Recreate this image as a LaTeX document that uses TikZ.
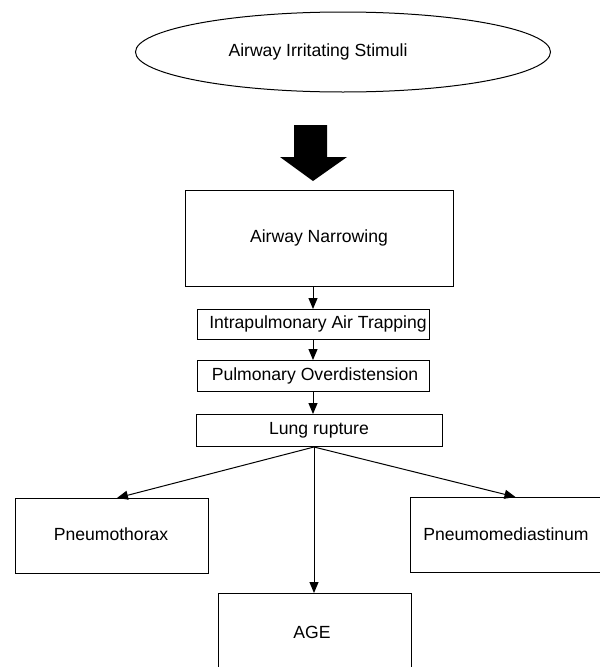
\documentclass[tikz,border=0pt]{standalone}
\usepackage{fontspec}
\setmainfont{Liberation Sans}
\usetikzlibrary{arrows.meta,shapes.geometric}
\begin{document}
\begin{tikzpicture}[x=1pt,y=-1pt,
  box/.style={draw,line width=1pt,rectangle,inner sep=0pt,anchor=north west},
  lbl/.style={inner sep=0pt,font=\fontsize{17.6}{20}\selectfont},
  conn/.style={line width=1pt,-{Triangle[length=11pt,width=9pt]}}]
\useasboundingbox[fill=white] (0,0) rectangle (600,667);
\coordinate (ax) at (313,0);
% top ellipse
\node[ellipse,draw,line width=1pt,minimum width=415pt,minimum height=80pt,inner sep=0pt] (stim) at (343,52) {};
\node[lbl] (stimtext) at (318,52) {Airway Irritating Stimuli};
% thick arrow
\fill[black] (294,125) -- (327,125) -- (327,157) -- (347,157) -- (313,181) -- (280,157) -- (294,157) -- cycle;
% boxes
\node[box,minimum width=268pt,minimum height=96pt] (narrow) at (185,190) {};
\node[lbl] (narrowtext) at (319,238) {Airway Narrowing};
\node[box,minimum width=232pt,minimum height=30pt] (trap) at (197,309) {};
\node[lbl] (traptext) at (318,324) {Intrapulmonary Air Trapping};
\node[box,minimum width=232pt,minimum height=31pt] (over) at (197,360) {};
\node[lbl] (overtext) at (315,375.5) {Pulmonary Overdistension};
\node[box,minimum width=246pt,minimum height=32pt] (lung) at (196,414) {};
\node[lbl] (lungtext) at (319,430) {Lung rupture};
\node[box,minimum width=193pt,minimum height=75pt] (ptx) at (15,498) {};
\node[lbl] (ptxtext) at (111,534) {Pneumothorax};
\node[box,minimum width=192pt,minimum height=75pt] (pmd) at (410,497) {};
\node[lbl] (pmdtext) at (506,534) {Pneumomediastinum};
\node[box,minimum width=193pt,minimum height=80pt] (age) at (218,593) {};
\node[lbl] (agetext) at (312,632) {AGE};
% connectors
\draw[conn] (narrow.south -| ax) -- (trap.north -| ax);
\draw[conn] (trap.south -| ax) -- (over.north -| ax);
\draw[conn] (over.south -| ax) -- (lung.north -| ax);
\coordinate (fork) at (lung.south -| 314,0);
\draw[conn] (fork) -- ([xshift=5pt]ptx.north);
\draw[conn] (fork) -- ([xshift=9pt]pmd.north);
\draw[conn] (fork) -- (age.north -| fork);
\end{tikzpicture}
\end{document}
